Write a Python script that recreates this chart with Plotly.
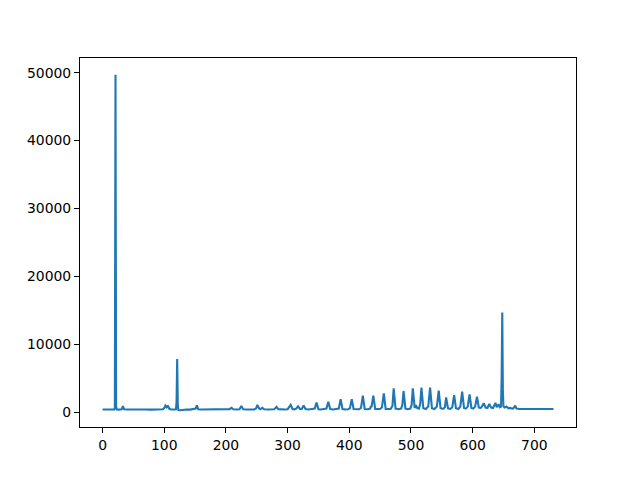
import plotly.graph_objects as go

# Sample positions and intensities
x_vals = [0, 5, 10, 15, 19, 20, 21, 22, 23, 27, 31, 33, 35, 40, 48, 55, 62, 70, 78, 85, 92, 98,
          100, 102, 104, 106, 108, 111, 116, 119, 120, 121, 122, 123, 126, 130, 136, 142, 148,
          151, 153, 155, 160, 168, 175, 182, 190, 197, 203, 206, 209, 212, 217, 222, 225, 228,
          234, 240, 246, 249, 251, 254, 256, 259, 262, 267, 272, 278, 280, 282, 285, 290, 296,
          300, 302, 305, 308, 311, 314, 317, 320, 323, 326, 329, 334, 340, 344, 347, 350, 354,
          360, 363, 366, 369, 374, 380, 383, 386, 389, 394, 398, 401, 404, 407, 412, 416, 419,
          422, 425, 430, 434, 435, 436, 439, 442, 447, 450, 453, 456, 459, 464, 467, 470, 472,
          475, 480, 484, 486, 488, 491, 495, 499, 501, 503, 506, 508, 510, 513, 515, 517, 520,
          524, 528, 531, 534, 538, 542, 545, 548, 552, 555, 557, 560, 564, 567, 570, 573, 577,
          580, 583, 586, 589, 592, 595, 598, 601, 604, 607, 610, 613, 615, 618, 621, 624, 627,
          630, 633, 637, 639, 642, 644, 646, 647, 648, 649, 650, 652, 655, 658, 661, 664, 666,
          669, 671, 676, 683, 690, 700, 710, 720, 731]
y_vals = [380, 360, 400, 370, 390, 600, 49690, 800, 380, 350, 390, 850, 400, 370, 390, 360, 400,
          380, 350, 390, 370, 400,
          600, 950, 700, 950, 500, 380, 370, 400, 1500, 7800, 900, 300, 264, 330, 380, 360, 390,
          500, 1000, 400, 380, 370, 400, 380, 360, 390, 380, 420, 620, 400, 370, 400, 880, 410,
          380, 370, 390, 550, 1050, 500, 420, 620, 400, 380, 370, 400, 550, 750, 420, 380, 370,
          420, 650, 1050, 450, 400, 500, 850, 450, 450, 950, 430, 380, 390, 500, 1400, 420, 380,
          390, 500, 1500, 430, 380, 390, 500, 1900, 430, 380, 400, 550, 1900, 450, 380, 400, 600,
          2400, 450, 400, 500, 900, 700, 2400, 450, 400, 450, 700, 2750, 450, 400, 450, 900, 3500,
          500, 420, 500, 1000, 3100, 500, 420, 500, 1000, 3500, 600, 1000, 600, 500, 1200, 3600, 550,
          450, 800, 3600, 550, 450, 800, 3150, 550, 450, 700, 2150, 550, 450, 700, 2500, 550, 450,
          800, 3000, 600, 500, 800, 2600, 600, 500, 800, 2250, 650, 600, 800, 1300, 650, 600, 1200,
          650, 600, 1350, 700, 1150, 700, 800, 5000, 14650, 3000, 800, 650, 800, 550, 600, 500, 550,
          950, 500, 450, 440, 460, 440, 450, 440, 450]

x_ticks = [0, 100, 200, 300, 400, 500, 600, 700]
y_ticks = [0, 10000, 20000, 30000, 40000, 50000]

# matplotlib-style 5% autoscale margins
xmin, xmax = min(x_vals), max(x_vals)
ymin, ymax = min(y_vals), max(y_vals)
xm = 0.05 * (xmax - xmin)
ym = 0.05 * (ymax - ymin)

fig = go.Figure()
fig.add_trace(go.Scatter(x=x_vals, y=y_vals, mode="lines",
                         line=dict(color="#1f77b4", width=2.1), hoverinfo="skip"))

axis_common = dict(showgrid=False, zeroline=False, showline=True, linecolor="black",
                   linewidth=1.1, mirror=True, ticks="outside", ticklen=5, tickwidth=1.1,
                   tickcolor="black", tickfont=dict(family="DejaVu Sans", size=13.9, color="black"))

# margins compensate for the page's 8px body offset
fig.update_layout(
    width=640, height=480,
    margin=dict(l=72, r=72, t=50, b=61, pad=0),
    paper_bgcolor="white", plot_bgcolor="white",
    showlegend=False,
    xaxis=dict(range=[xmin - xm, xmax + xm], tickvals=x_ticks,
               ticktext=[str(t) for t in x_ticks], **axis_common),
    yaxis=dict(range=[ymin - ym, ymax + ym], tickvals=y_ticks,
               ticktext=[str(t) for t in y_ticks], **axis_common),
)

fig.write_html("out.html")
